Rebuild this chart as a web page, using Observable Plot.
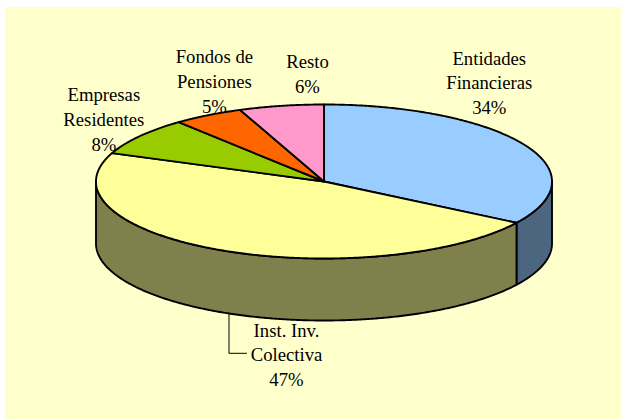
<!DOCTYPE html>
<html><head><meta charset="utf-8">
<script src="https://cdn.jsdelivr.net/npm/d3@7"></script>
<script src="https://cdn.jsdelivr.net/npm/@observablehq/plot@0.6"></script>
<style>
html,body{margin:0;padding:0;background:#fff;}
#chart{position:absolute;left:5px;top:7px;}
</style></head><body><div id="chart"></div>
<script>
// ---- data ----
const categories = ["Entidades Financieras","Inst. Inv. Colectiva","Empresas Residentes","Fondos de Pensiones","Resto"];
const labelText = ["Entidades\nFinancieras","Inst. Inv.\nColectiva","Empresas\nResidentes","Fondos de\nPensiones","Resto"];
const shares = [34,47,8,5,6];

// ---- style / layout ----
const topColors = ["#99CCFF","#FFFF99","#99CC00","#FF6600","#FF99CC"];
const sideColors = ["#4D6680","#80804D","#4D6600","#803300","#804D66"];
const W = 616, H = 412, CX = 318.5, CY = 174, RX = 228, RY = 77, DEPTH = 62;
const labelNudge = [[-34.5,-63.1],[66,41.2],[-35.7,-18.2],[6.4,-35.2],[26.2,-33.4]]; // px from slice rim

const D = DEPTH / RY;
const arcs = d3.pie().sort(null).startAngle(0).endAngle(2 * Math.PI)(shares);
const STEP = Math.PI / 360;

function arcPts(a0, a1, dv) {
  const n = Math.max(2, Math.ceil(Math.abs(a1 - a0) / STEP));
  const pts = [];
  for (let i = 0; i <= n; i++) {
    const a = a0 + (a1 - a0) * i / n;
    pts.push({u: Math.sin(a), v: -Math.cos(a) + dv});
  }
  return pts;
}

const tops = [], sides = [];
arcs.forEach((s, i) => {
  const key = categories[i];
  tops.push({u: 0, v: 0, key, fill: topColors[i]});
  arcPts(s.startAngle, s.endAngle, 0).forEach(p => tops.push({...p, key, fill: topColors[i]}));
  const lo = Math.max(s.startAngle, Math.PI / 2), hi = Math.min(s.endAngle, 3 * Math.PI / 2);
  if (hi > lo) {
    const up = arcPts(lo, hi, 0), down = arcPts(hi, lo, D);
    [...up, ...down].forEach(p => sides.push({...p, key, fill: sideColors[i]}));
  }
});

const labels = arcs.map((s, i) => {
  const m = (s.startAngle + s.endAngle) / 2;
  const front = Math.cos(m) < 0;
  const u = Math.sin(m) + labelNudge[i][0] / RX;
  const v = -Math.cos(m) + (front ? D : 0) + labelNudge[i][1] / RY;
  return {u, v, front, text: labelText[i] + "\n" + shares[i] + "%"};
});

const leader = [];
labels.forEach((l, i) => {
  if (!l.front) return;
  const ux = l.u - 57.5 / RX;
  const vs = Math.sqrt(1 - ux * ux) + D;
  leader.push({u: ux, v: vs, k: i}, {u: ux, v: l.v, k: i}, {u: l.u - 40 / RX, v: l.v, k: i});
});

const chart = Plot.plot({
  width: W, height: H, margin: 0,
  x: {domain: [-CX / RX, (W - CX) / RX], range: [0, W], axis: null},
  y: {domain: [-CY / RY, (H - CY) / RY], range: [0, H], axis: null},
  color: {type: "identity"},
  style: {background: "#FFFFCC", overflow: "visible", fontFamily: "'Liberation Serif', serif"},
  marks: [
    Plot.line(sides, {x: "u", y: "v", z: "key", fill: "fill", stroke: "#000", strokeWidth: 1.9, strokeLinejoin: "round", curve: "linear-closed"}),
    Plot.line(tops, {x: "u", y: "v", z: "key", fill: "fill", stroke: "#000", strokeWidth: 1.9, strokeLinejoin: "round", curve: "linear-closed"}),
    Plot.line(leader, {x: "u", y: "v", z: "k", stroke: "#000", strokeWidth: 1}),
    Plot.text(labels, {x: "u", y: "v", text: "text", fontFamily: "'Liberation Serif', serif", fontSize: 18.7, lineHeight: 1.32, fill: "#000"})
  ]
});
document.getElementById("chart").append(chart);
</script></body></html>
